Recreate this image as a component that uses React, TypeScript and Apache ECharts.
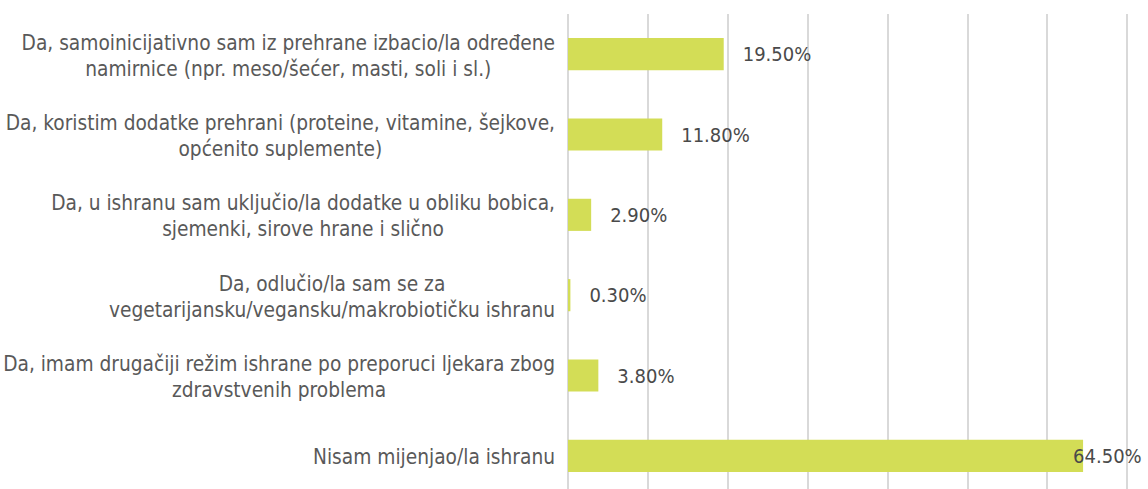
import React, { useEffect, useRef } from "react";
import * as echarts from "echarts";

const categories: string[] = [
  "Da, samoinicijativno sam iz prehrane izbacio/la određene\nnamirnice (npr. meso/šećer, masti, soli i sl.)",
  "Da, koristim dodatke prehrani (proteine, vitamine, šejkove,\nopćenito suplemente)",
  "Da, u ishranu sam uključio/la dodatke u obliku bobica,\nsjemenki, sirove hrane i slično",
  "Da, odlučio/la sam se za\nvegetarijansku/vegansku/makrobiotičku ishranu",
  "Da, imam drugačiji režim ishrane po preporuci ljekara zbog\nzdravstvenih problema",
  "Nisam mijenjao/la ishranu",
];
const values: number[] = [19.5, 11.8, 2.9, 0.3, 3.8, 64.5];
const axisMin = 0;
const axisMax = 70;
const axisInterval = 10;

const FONT = "'DejaVu Sans Condensed', sans-serif";

export default function App() {
  const ref = useRef<HTMLDivElement>(null);
  useEffect(() => {
    document.body.style.margin = "0";
    if (!ref.current) return;
    const chart = echarts.init(ref.current, null, { renderer: "svg" });
    chart.setOption({
      animation: false,
      backgroundColor: "#ffffff",
      grid: {
        left: 568,
        right: 21,
        top: 14,
        height: 482,
        containLabel: false,
        outerBoundsMode: "none",
      },
      xAxis: {
        type: "value",
        min: axisMin,
        max: axisMax,
        interval: axisInterval,
        axisLabel: { show: false },
        axisLine: { show: false },
        axisTick: { show: false },
        splitLine: { show: true, lineStyle: { color: "#d9d9d9", width: 2 } },
      },
      yAxis: {
        type: "category",
        inverse: true,
        data: categories,
        axisLine: { show: false },
        axisTick: { show: false },
        axisLabel: {
          margin: 13,
          formatter: (v: string) =>
            v
              .split("\n")
              .map((l) => "{c|" + l + "}")
              .join("\n"),
          rich: {
            c: {
              align: "center",
              fontFamily: FONT,
              fontSize: 20.7,
              lineHeight: 26,
              color: "#595959",
              padding: [3, 0, 0, 0],
            },
          },
        },
      },
      series: [
        {
          type: "bar",
          data: values.map((v, i) =>
            i === values.length - 1
              ? { value: v, label: { distance: -10 } }
              : { value: v }
          ),
          barWidth: "40%",
          itemStyle: { color: "#d3dd56" },
          label: {
            show: true,
            position: "right",
            distance: 19,
            formatter: (p: any) => Number(p.value).toFixed(2) + "%",
            fontFamily: FONT,
            fontSize: 20,
            color: "#4a4a4a",
          },
        },
      ],
    });
    return () => chart.dispose();
  }, []);
  return <div ref={ref} style={{ width: 1148, height: 489 }} />;
}
